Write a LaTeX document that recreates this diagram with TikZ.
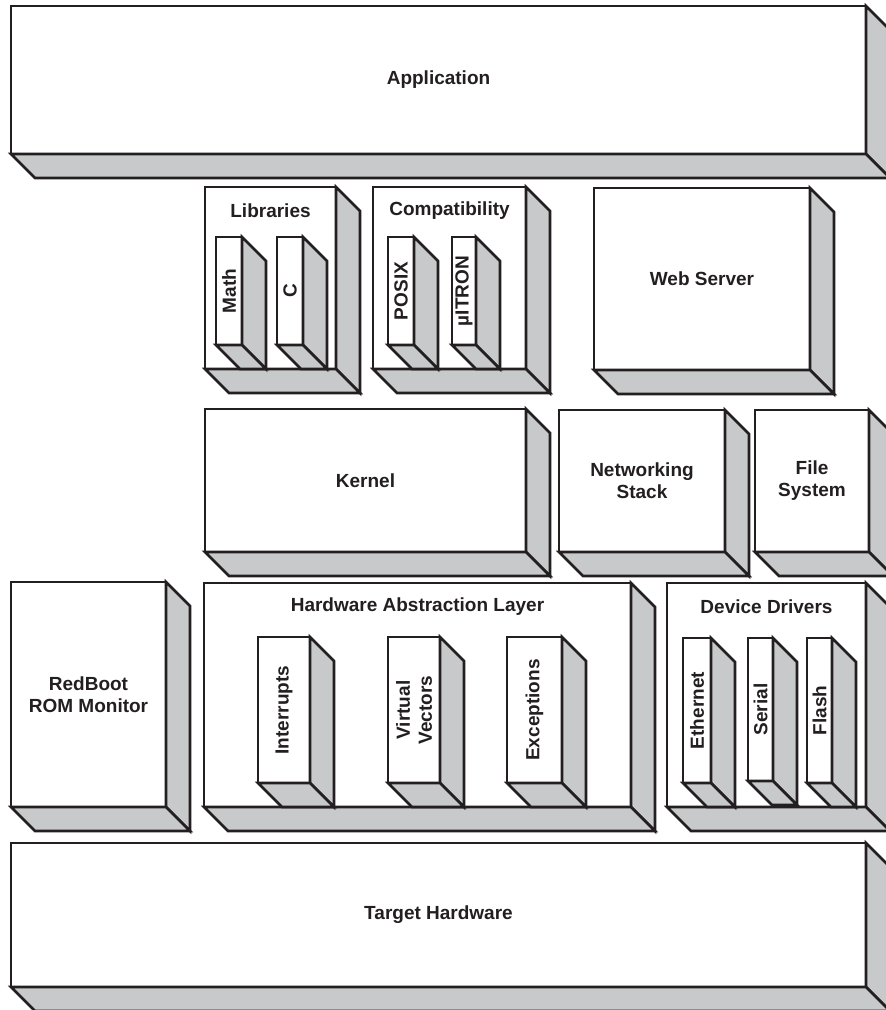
\documentclass[tikz,border=0pt]{standalone}
\usepackage{fontspec}
\setmainfont{Liberation Sans}
\definecolor{sidegray}{RGB}{200,201,203}
\definecolor{edge}{RGB}{35,31,32}
\newcommand{\dep}{24}
\newcommand{\tdbox}[5]{%
  \node[front, minimum width={#4-#2}, minimum height={#5-#3}] (#1) at ({(#2+#4)/2},{(#3+#5)/2}) {};
  \filldraw[side] (#1.north east) -- ++(\dep,\dep) -- ([shift={(\dep,\dep)}]#1.south east) -- (#1.south east) -- cycle;
  \filldraw[side] (#1.south west) -- ++(\dep,\dep) -- ([shift={(\dep,\dep)}]#1.south east) -- (#1.south east) -- cycle;
}
\tikzset{
  front/.style={draw=edge, fill=white, line width=2.6pt, inner sep=0pt, outer sep=0pt, rectangle},
  side/.style={draw=edge, fill=sidegray, line width=2.6pt, line join=miter},
  lbl/.style={font=\fontsize{19}{22}\selectfont\bfseries, text=edge, align=center, inner sep=0pt},
  vlbl/.style={lbl, rotate=90},
}
\begin{document}
\begin{tikzpicture}[x=1pt, y=-1pt]
\useasboundingbox (0,0) rectangle (886,1010);
\clip (0,0) rectangle (886,1010);
\fill[white] (0,0) rectangle (886,1010);

% Application
\tdbox{app}{11}{6}{866}{154}
\node[lbl] (appl) at (app) {Application};

% Libraries
\tdbox{lib}{205}{187}{336}{369}
\node[lbl] (libl) at (270.5,211) {Libraries};
\tdbox{math}{216}{237}{242}{345}
\node[vlbl] (mathl) at (math) {Math};
\tdbox{clib}{277}{237}{303}{345}
\node[vlbl] (clibl) at (clib) {C};

% Compatibility
\tdbox{comp}{373}{187}{526}{369}
\node[lbl] (compl) at (449.5,211) {Compatibility};
\tdbox{posix}{388}{237}{414}{345}
\node[vlbl] (posixl) at (posix) {POSIX};
\tdbox{itron}{452}{237}{476}{345}
\node[vlbl] (itronl) at (itron) {µITRON};

% Web Server
\tdbox{web}{594}{188}{810}{370}
\node[lbl] (webl) at (web) {Web Server};

% Kernel row
\tdbox{kern}{205}{409}{526}{552}
\node[lbl] (kernl) at (kern) {Kernel};
\tdbox{net}{559}{410}{725}{552}
\node[lbl] (netl) at (net) {Networking\\Stack};
\tdbox{fs}{755}{410}{869}{552}
\node[lbl] (fsl) at (fs) {File\\System};

% RedBoot
\tdbox{rb}{11}{582}{166}{807}
\node[lbl] (rbl) at (rb) {RedBoot\\ROM Monitor};

% HAL
\tdbox{hal}{204}{583}{631}{807}
\node[lbl] (hall) at (417.5,607) {Hardware Abstraction Layer};
\tdbox{intr}{258}{637}{310}{783}
\node[vlbl] (intrl) at (intr) {Interrupts};
\tdbox{vv}{388}{637}{440}{783}
\node[vlbl] (vvl) at (vv) {Virtual\\Vectors};
\tdbox{exc}{507}{637}{562}{783}
\node[vlbl] (excl) at (exc) {Exceptions};

% Device Drivers
\tdbox{dd}{667}{583}{866}{807}
\node[lbl] (ddl) at (766.5,607) {Device Drivers};
\tdbox{eth}{683}{638}{711}{783}
\node[vlbl] (ethl) at (eth) {Ethernet};
\tdbox{ser}{748}{638}{773}{781}
\node[vlbl] (serl) at (ser) {Serial};
\tdbox{fla}{807}{638}{832}{783}
\node[vlbl] (flal) at (fla) {Flash};

% Target Hardware
\tdbox{th}{11}{843}{866}{987}
\node[lbl] (thl) at (th) {Target Hardware};
\end{tikzpicture}
\end{document}
